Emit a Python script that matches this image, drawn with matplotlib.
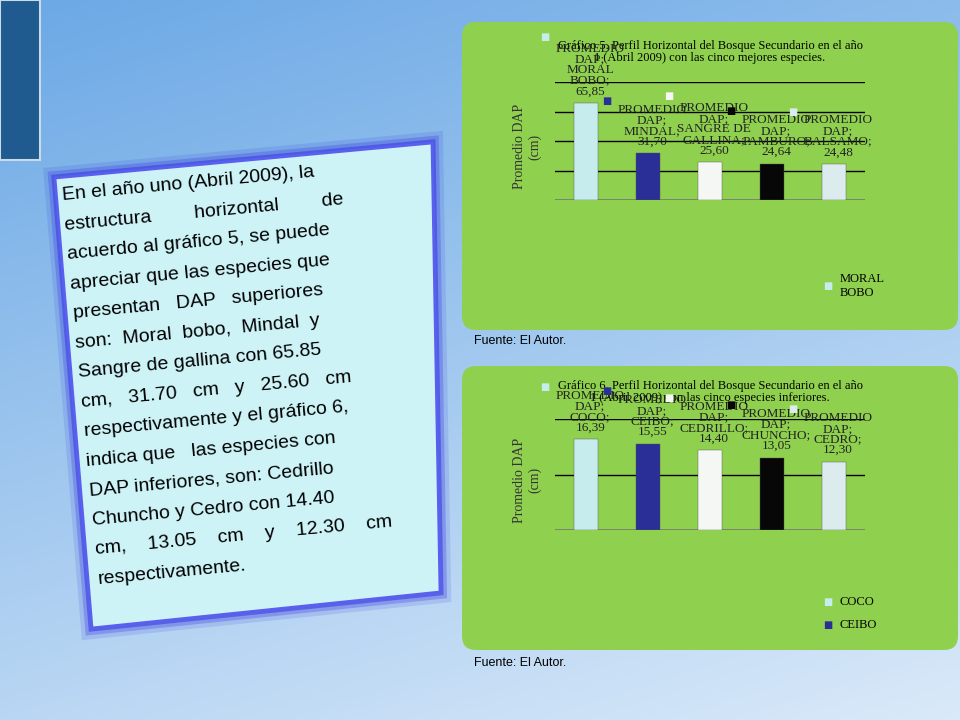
import numpy as np
import math
import matplotlib
matplotlib.use("Agg")
import matplotlib.pyplot as plt
from matplotlib.patches import FancyBboxPatch, Rectangle, Polygon

# ---- data ----
top_species = ["MORAL\nBOBO", "MINDAL", "SANGRE DE\nGALLINA", "PAMBURO", "BALSAMO"]
top_values = [65.85, 31.70, 25.60, 24.64, 24.48]
top_labels = ["65,85", "31,70", "25,60", "24,64", "24,48"]
bot_species = ["COCO", "CEIBO", "CEDRILLO", "CHUNCHO", "CEDRO"]
bot_values = [16.39, 15.55, 14.40, 13.05, 12.30]
bot_labels = ["16,39", "15,55", "14,40", "13,05", "12,30"]
bar_colors = ["#c6ecee", "#2a2f98", "#f5f7f5", "#070707", "#dcecee"]

W, H = 960, 720
fig = plt.figure(figsize=(9.6, 7.2), dpi=100)
bg = fig.add_axes([0, 0, 1, 1])
bg.set_xlim(0, W); bg.set_ylim(H, 0); bg.axis("off")
yy, xx = np.mgrid[0:1:200j, 0:1:200j]
t = np.clip(0.6 * yy + 0.25 * xx, 0, 1)
c1 = np.array([0.42, 0.66, 0.90]); c2 = np.array([0.93, 0.96, 0.99])
img = c1[None, None, :] * (1 - t[..., None]) + c2[None, None, :] * t[..., None]
bg.imshow(img, extent=[0, W, H, 0], aspect="auto", zorder=0)
bg.add_patch(Rectangle((0, 0), 40, 160, facecolor="#1f5b8e", edgecolor="#c9dbe9", lw=1.5, zorder=1))

poly = [(55, 178), (432, 143), (440, 592), (92, 628)]
for lw, a in [(16, 0.15), (10, 0.3), (5, 0.6)]:
    bg.add_patch(Polygon(poly, closed=True, facecolor="none", edgecolor="#3a3fe0", lw=lw, alpha=a, zorder=2))
bg.add_patch(Polygon(poly, closed=True, facecolor="#cdf3f7", edgecolor="#5a5ff0", lw=2, zorder=3))
body = ["En el año uno (Abril 2009), la",
        "estructura        horizontal        de",
        "acuerdo al gráfico 5, se puede",
        "apreciar que las especies que",
        "presentan   DAP   superiores",
        "son:  Moral  bobo,  Mindal  y",
        "Sangre de gallina con 65.85",
        "cm,   31.70   cm   y   25.60   cm",
        "respectivamente y el gráfico 6,",
        "indica que   las especies con",
        "DAP inferiores, son: Cedrillo",
        "Chuncho y Cedro con 14.40",
        "cm,    13.05    cm    y    12.30    cm",
        "respectivamente."]
ang = math.radians(5.3)
for i, line in enumerate(body):
    x0 = 62 + i * 29.6 * math.sin(ang)
    y0 = 196 + i * 29.6 * math.cos(ang)
    bg.text(x0, y0, line, fontsize=14, family="Liberation Sans", rotation=5.3,
            rotation_mode="anchor", ha="left", va="center", color="black", zorder=4)

def panel(y0, y1):
    bg.add_patch(FancyBboxPatch((462, y0), 496, y1 - y0, boxstyle="round,pad=0,rounding_size=14",
                                facecolor="#8fd14f", edgecolor="none", zorder=1))

panel(22, 330)
panel(366, 650)
bg.text(474, 341, "Fuente: El Autor.", fontsize=9, family="Liberation Sans", va="center")
bg.text(474, 663, "Fuente: El Autor.", fontsize=9, family="Liberation Sans", va="center")

def chart(rect_px, values, labels, species, ymax, step, legend_items, leg_y):
    x0, y0, x1, y1 = rect_px
    ax = fig.add_axes([x0 / W, 1 - y1 / H, (x1 - x0) / W, (y1 - y0) / H])
    ax.patch.set_alpha(0)
    xs = np.arange(len(values))
    ax.bar(xs, values, width=0.4, color=bar_colors, edgecolor="#555555", linewidth=0.3, zorder=3)
    ax.set_xlim(-0.5, len(values) - 0.5)
    ax.set_ylim(0, ymax)
    for g in np.arange(step, ymax + 0.01, step):
        ax.axhline(g, color="black", lw=1, zorder=1)
    ax.axhline(0, color="#777777", lw=1.2, zorder=2)
    ax.set_xticks([]); ax.set_yticks([])
    for s in ax.spines.values():
        s.set_visible(False)
    for i, (v, lab, sp) in enumerate(zip(values, labels, species)):
        txt = "PROMEDIO\nDAP;\n" + sp + ";\n" + lab
        nl = txt.count("\n") + 1
        ax.annotate(txt, (i, v), xytext=(3, 4), textcoords="offset points", ha="center", va="bottom",
                    fontsize=9.5, family="Liberation Serif", linespacing=0.85, color="#222222",
                    zorder=5, annotation_clip=False)
        ax.annotate("\u25A0", (i, v), xytext=(-30, 4 + (nl - 1) * 9.7 + 1), textcoords="offset points",
                    ha="center", va="bottom", fontsize=7, color=bar_colors[i], zorder=6,
                    annotation_clip=False)
    ax.text(-0.95, ymax * 0.45, "Promedio DAP\n(cm)", rotation=90, ha="center", va="center",
            fontsize=10, family="Liberation Serif", color="#333333")
    for j, (name, col) in enumerate(legend_items):
        bg.text(828, leg_y + j * 23, "\u25A0", fontsize=7, color=col, va="center", ha="center", zorder=6)
        bg.text(840, leg_y + j * 23, name, fontsize=9, family="Liberation Serif", va="center", zorder=6)
    return ax

chart((555, 82, 865, 200), top_values, top_labels, top_species, 80, 20,
      [("MORAL\nBOBO", bar_colors[0])], 286)
bg.text(710, 52, "Gráfico 5. Perfil Horizontal del Bosque Secundario en el año\n1 (Abril 2009) con las cinco mejores especies.",
        ha="center", va="center", fontsize=9, family="Liberation Serif", linespacing=1.1, zorder=4)
chart((555, 419, 865, 530), bot_values, bot_labels, bot_species, 20, 10,
      [("COCO", bar_colors[0]), ("CEIBO", bar_colors[1])], 602)
bg.text(710, 392, "Gráfico 6. Perfil Horizontal del Bosque Secundario en el año\n1 (Abril 2009) con las cinco especies inferiores.",
        ha="center", va="center", fontsize=9, family="Liberation Serif", linespacing=1.1, zorder=4)

fig.savefig("out.png", dpi=100)
